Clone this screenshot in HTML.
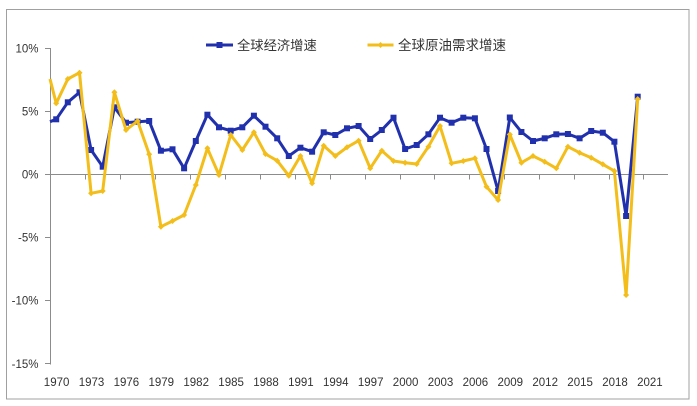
<!DOCTYPE html>
<html>
<head>
<meta charset="utf-8">
<style>
  html,body{margin:0;padding:0;background:#fff;}
  body{width:697px;height:406px;overflow:hidden;}
  svg{display:block;}
  text{font-family:"Liberation Sans","Noto Sans CJK SC",sans-serif;fill:#333;}
</style>
</head>
<body>
<svg width="697" height="406" viewBox="0 0 697 406" xmlns="http://www.w3.org/2000/svg">
  <defs>
    <marker id="mb" markerUnits="userSpaceOnUse" markerWidth="8" markerHeight="8" refX="4" refY="4" orient="0">
      <rect x="1" y="1" width="6" height="6" fill="#2131ad"/>
    </marker>
    <marker id="my" markerUnits="userSpaceOnUse" markerWidth="8" markerHeight="8" refX="4" refY="4" orient="0">
      <polygon points="4,1 7,4 4,7 1,4" fill="#f3bd1a"/>
    </marker>
  </defs>

  <rect x="0" y="0" width="697" height="406" fill="#fff"/>
  <rect x="6.5" y="9.5" width="682.5" height="389.5" fill="none" stroke="#a0a0a0" stroke-width="1"/>

  <!-- Y axis -->
  <g stroke="#8c8c8c" stroke-width="1" fill="none">
    <line x1="50.5" y1="48" x2="50.5" y2="364.5"/>
    <line x1="45" y1="48.5" x2="50.5" y2="48.5"/>
    <line x1="45" y1="111.5" x2="50.5" y2="111.5"/>
    <line x1="45" y1="174.5" x2="50.5" y2="174.5"/>
    <line x1="45" y1="237.5" x2="50.5" y2="237.5"/>
    <line x1="45" y1="300.5" x2="50.5" y2="300.5"/>
    <line x1="45" y1="363.5" x2="50.5" y2="363.5"/>
    <!-- zero line -->
    <line x1="50" y1="174.5" x2="668" y2="174.5"/>
    <!-- x ticks -->
    <path d="M85.5 174.5v5 M120.5 174.5v5 M155.5 174.5v5 M190.5 174.5v5 M225.5 174.5v5 M260.5 174.5v5 M295.5 174.5v5 M330.5 174.5v5 M365.5 174.5v5 M400.5 174.5v5 M434.5 174.5v5 M469.5 174.5v5 M504.5 174.5v5 M539.5 174.5v5 M574.5 174.5v5 M609.5 174.5v5 M643.5 174.5v5"/>
  </g>

  <!-- Y labels -->
  <g font-size="11.5" text-anchor="end">
    <text x="38.5" y="52.5">10%</text>
    <text x="38.5" y="115.5">5%</text>
    <text x="38.5" y="178.5">0%</text>
    <text x="38.5" y="241.5">-5%</text>
    <text x="38.5" y="304.5">-10%</text>
    <text x="38.5" y="368">-15%</text>
  </g>

  <!-- X labels -->
  <g font-size="11.5" text-anchor="middle">
    <text x="56.6" y="386">1970</text>
    <text x="91.5" y="386">1973</text>
    <text x="126.4" y="386">1976</text>
    <text x="161.3" y="386">1979</text>
    <text x="196.2" y="386">1982</text>
    <text x="231.1" y="386">1985</text>
    <text x="266.0" y="386">1988</text>
    <text x="300.9" y="386">1991</text>
    <text x="335.8" y="386">1994</text>
    <text x="370.7" y="386">1997</text>
    <text x="405.6" y="386">2000</text>
    <text x="440.5" y="386">2003</text>
    <text x="475.4" y="386">2006</text>
    <text x="510.3" y="386">2009</text>
    <text x="545.2" y="386">2012</text>
    <text x="580.1" y="386">2015</text>
    <text x="615.0" y="386">2018</text>
    <text x="649.9" y="386">2021</text>
  </g>

  <!-- Blue series: global economic growth -->
  <polyline fill="none" stroke="#2131ad" stroke-width="3" stroke-linejoin="round"
    marker-mid="url(#mb)" marker-end="url(#mb)"
    points="50,121.7 56.2,119.3 67.8,102.3 79.5,92.3 91.1,150 102.7,166.7 114.4,107.3 126.0,122.7 137.6,121.7 149.2,121 160.9,150.7 172.5,149.3 184.1,168.3 195.8,141 207.4,114.7 219.0,127.3 230.7,130.7 242.3,127.3 253.9,115.7 265.5,126.7 277.2,138.3 288.8,156 300.4,147.7 312.1,151.7 323.7,132.3 335.3,135 347.0,128.3 358.6,126 370.2,139 381.8,130 393.5,117.7 405.1,149 416.7,145 428.4,134.3 440.0,117.7 451.6,122.7 463.3,117.7 474.9,118.3 486.5,149 498.1,191 509.8,117.5 521.4,132 533.0,141 544.7,138.3 556.3,134.3 567.9,134 579.6,138.3 591.2,131 602.8,132.7 614.4,141.7 626.1,216 637.7,96.7"/>

  <!-- Yellow series: global crude oil demand growth -->
  <polyline fill="none" stroke="#f3bd1a" stroke-width="3" stroke-linejoin="round"
    marker-mid="url(#my)" marker-end="url(#my)"
    points="50,79 56.2,103.3 67.8,79 79.5,72.7 91.1,193.3 102.7,191 114.4,92.3 126.0,130 137.6,121 149.2,154.3 160.9,226.7 172.5,221 184.1,215 195.8,185 207.4,148.3 219.0,175 230.7,135 242.3,150 253.9,132.3 265.5,154 277.2,160.7 288.8,175.7 300.4,156 312.1,183.3 323.7,145.7 335.3,156 347.0,147.3 358.6,140.7 370.2,168.3 381.8,150.7 393.5,161 405.1,162.7 416.7,164 428.4,146.7 440.0,126 451.6,163.3 463.3,161 474.9,158.3 486.5,186.7 498.1,200 509.8,134.5 521.4,162.7 533.0,156 544.7,161.7 556.3,168.3 567.9,146.7 579.6,152.7 591.2,157.7 602.8,164.3 614.4,171 626.1,295 637.7,99"/>

  <!-- Legend -->
  <line x1="206" y1="45" x2="233" y2="45" stroke="#2131ad" stroke-width="3"/>
  <rect x="216.5" y="42" width="6" height="6" fill="#2131ad"/>
  <text x="237" y="50" font-size="13.3">全球经济增速</text>

  <line x1="367.5" y1="45" x2="393.5" y2="45" stroke="#f3bd1a" stroke-width="3"/>
  <polygon points="380.5,42 383.5,45 380.5,48 377.5,45" fill="#f3bd1a"/>
  <text x="398" y="50" font-size="13.5">全球原油需求增速</text>
</svg>
</body>
</html>
